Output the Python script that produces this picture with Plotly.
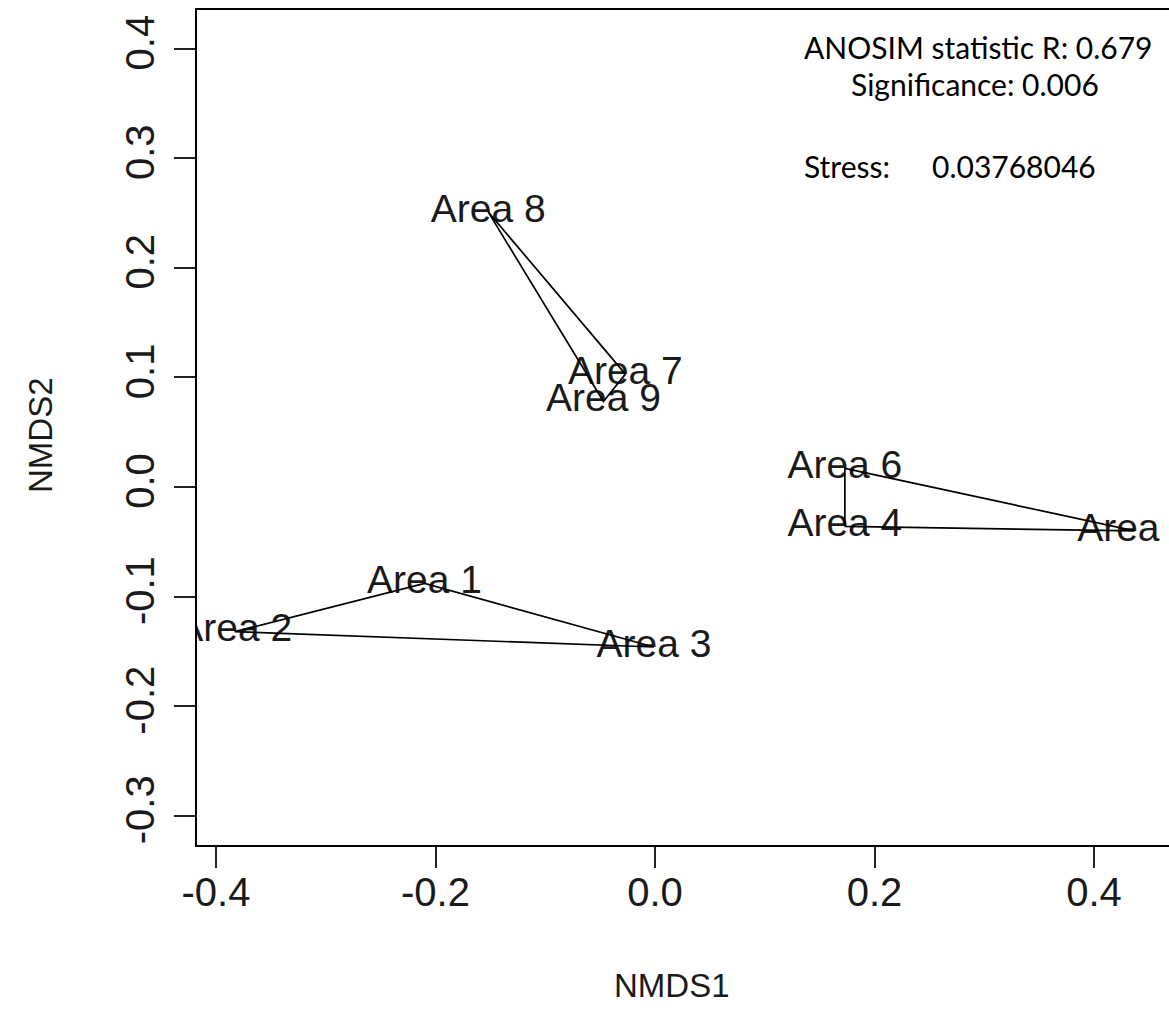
import plotly.graph_objects as go

# ---- data ----
labels = ["Area 1", "Area 2", "Area 3", "Area 4", "Area 5", "Area 6", "Area 7", "Area 8", "Area 9"]
nmds1 = [-0.210, -0.383, -0.001, 0.173, 0.437, 0.173, -0.027, -0.152, -0.047]
nmds2 = [-0.088, -0.132, -0.146, -0.036, -0.040, 0.017, 0.103, 0.251, 0.078]
groups = [["Area 2", "Area 1", "Area 3"],
          ["Area 4", "Area 5", "Area 6"],
          ["Area 7", "Area 8", "Area 9"]]
x_tickvals = [-0.4, -0.2, 0.0, 0.2, 0.4]
x_ticktext = ["-0.4", "-0.2", "0.0", "0.2", "0.4"]
y_tickvals = [-0.3, -0.2, -0.1, 0.0, 0.1, 0.2, 0.3, 0.4]
y_ticktext = ["-0.3", "-0.2", "-0.1", "0.0", "0.1", "0.2", "0.3", "0.4"]
anosim_r = "0.679"
significance = "0.006"
stress = "0.03768046"

# page geometry (body margin is removed by the post script)
W, H = 1169, 1030
L, T, B, RGT = 197, 10, 845, 1169
R_FONT = "Liberation Sans, Arial, sans-serif"
NOTE_FONT = "Lato, Noto Sans, sans-serif"

fig = go.Figure()

# labels (drawn first so hull lines overlay them)
fig.add_trace(go.Scatter(
    x=nmds1, y=nmds2, text=labels, mode="text",
    textposition="middle center",
    textfont=dict(family=R_FONT, size=39, color="#1a1a1a"),
    cliponaxis=True, hoverinfo="skip", showlegend=False))

idx = {lab: i for i, lab in enumerate(labels)}
for g in groups:
    pts = g + [g[0]]
    fig.add_trace(go.Scatter(
        x=[nmds1[idx[p]] for p in pts],
        y=[nmds2[idx[p]] for p in pts],
        mode="lines", line=dict(color="black", width=1.7),
        cliponaxis=True, hoverinfo="skip", showlegend=False))

# pixel helpers for annotations (paper coordinates of the plot area)
def px(xp):
    return (xp - L) / (RGT - L)

def py(yp):
    return (B - yp) / (B - T)

annotations = [
    dict(text="ANOSIM statistic R: " + anosim_r, x=px(978), y=py(47), xanchor="center", yanchor="middle",
         font=dict(family=NOTE_FONT, size=30, color="black")),
    dict(text="Significance: " + significance, x=px(975), y=py(84), xanchor="center", yanchor="middle",
         font=dict(family=NOTE_FONT, size=30, color="black")),
    dict(text="Stress:", x=px(802), y=py(166), xanchor="left", yanchor="middle",
         font=dict(family=NOTE_FONT, size=30, color="black")),
    dict(text=stress, x=px(930), y=py(166), xanchor="left", yanchor="middle",
         font=dict(family=NOTE_FONT, size=30, color="black")),
    dict(text="NMDS1", x=px(672), y=py(985), xanchor="center", yanchor="middle",
         font=dict(family=R_FONT, size=33, color="#1a1a1a")),
    dict(text="NMDS2", x=px(40), y=py(435), xanchor="center", yanchor="middle", textangle=-90,
         font=dict(family=R_FONT, size=33, color="#1a1a1a")),
]
for a in annotations:
    a.update(xref="paper", yref="paper", showarrow=False)

x0 = (L - 655) / 1097.5
x1 = (RGT - 655) / 1097.5
y0 = (487 - B) / 1096
y1 = (487 - T) / 1096

fig.update_layout(
    width=W, height=H,
    margin=dict(l=L, r=W - RGT, t=T, b=H - B, pad=0),
    paper_bgcolor="white", plot_bgcolor="white",
    annotations=annotations,
    xaxis=dict(range=[x0, x1], tickvals=x_tickvals, ticktext=x_ticktext,
               showgrid=False, zeroline=False, showline=True, mirror=True,
               linecolor="black", linewidth=2, ticks="outside", ticklen=21,
               tickwidth=1.5, tickcolor="#222", ticklabelstandoff=-10,
               tickfont=dict(family=R_FONT, size=40, color="#1a1a1a")),
    yaxis=dict(range=[y0, y1], tickvals=y_tickvals, ticktext=y_ticktext,
               showgrid=False, zeroline=False, showline=True, mirror=False,
               linecolor="black", linewidth=2, ticks="outside", ticklen=21,
               tickwidth=1.5, tickcolor="#222", tickangle=-90, ticklabelstandoff=4,
               tickfont=dict(family=R_FONT, size=40, color="#1a1a1a")),
)

fig.write_html(
    "out.html",
    config={"displayModeBar": False},
    post_script="document.body.style.margin='0';document.body.style.overflow='hidden';",
)
